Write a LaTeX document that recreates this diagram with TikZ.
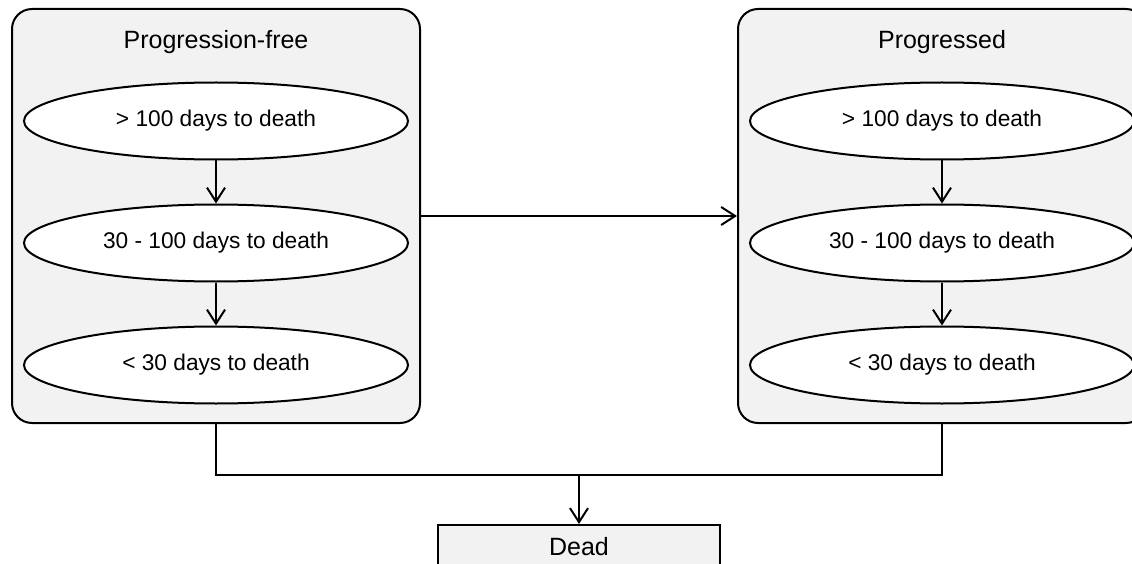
\documentclass[tikz,border=0pt]{standalone}
\usepackage{fontspec}
\setmainfont{Liberation Sans}
\usetikzlibrary{arrows.meta,positioning,shapes.geometric}

\definecolor{groupfill}{HTML}{F2F2F2}

\begin{document}
\begin{tikzpicture}[x=1pt,y=-1pt,>={Straight Barb[length=14pt,width=18pt]},
    line width=2pt,node distance=43pt,
    group/.style={draw,fill=groupfill,rounded corners=20pt,minimum width=408pt,minimum height=414pt},
    grouptitle/.style={font=\fontsize{25}{30}\selectfont},
    period/.style={ellipse,draw,fill=white,minimum width=384pt,minimum height=77pt,inner sep=0pt,
      font=\fontsize{22.7}{27}\selectfont},
    outcome/.style={rectangle,draw,fill=groupfill,minimum width=282pt,minimum height=44pt,
      font=\fontsize{25}{30}\selectfont}]
    \useasboundingbox (0,0) rectangle (1132,564);

    \node[group]                        (pfree) at (216,216) {};
    \node[group,right=316pt of pfree]   (prog)               {};
    \node[grouptitle] (pfreetitle) at (pfree |- 0,42) {Progression-free};
    \node[grouptitle] (progtitle)  at (prog |- 0,42)  {Progressed};

    \node[period]           (pf1) at (pfree |- 0,121) {> 100 days to death};
    \node[period]           (pf2) [below=of pf1]      {30 - 100 days to death};
    \node[period]           (pf3) [below=of pf2]      {< 30 days to death};
    \node[period]           (pg1) at (prog |- pf1)    {> 100 days to death};
    \node[period]           (pg2) [below=of pg1]      {30 - 100 days to death};
    \node[period]           (pg3) [below=of pg2]      {< 30 days to death};

    \node[outcome]          (dead) at (579,547)       {Dead};
    \coordinate (join) at (dead |- 0,475);

    \draw[->] (pf1) -- (pf2);
    \draw[->] (pf2) -- (pf3);
    \draw[->] (pg1) -- (pg2);
    \draw[->] (pg2) -- (pg3);
    \draw[->] (pfree) -- (prog);
    \draw (pfree.south) |- (join) -| (prog.south);
    \draw[->] (join) -- (dead);
  \end{tikzpicture}
\end{document}
